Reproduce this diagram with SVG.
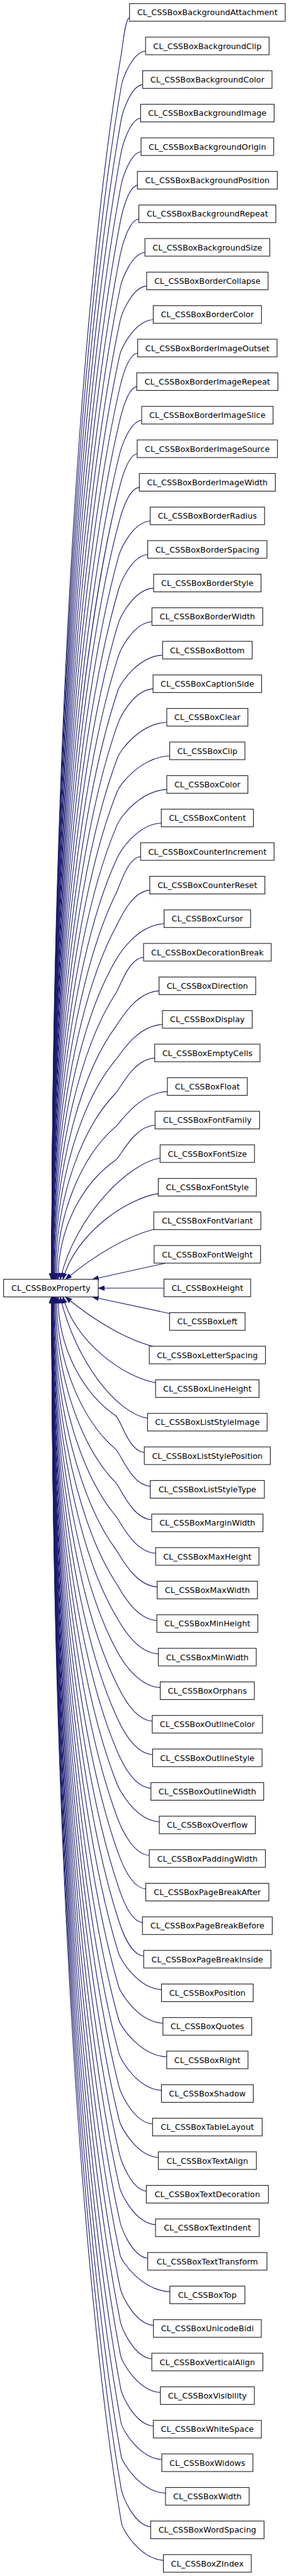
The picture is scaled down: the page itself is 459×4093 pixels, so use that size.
<svg xmlns="http://www.w3.org/2000/svg" width="459" height="4093" viewBox="0 0 459 4093">
<style>
.e{fill:none;stroke:#191970;stroke-width:1.1;marker-end:url(#arr)}
.n rect{fill:#fff;stroke:#1a1a1a;stroke-width:1.1}
.n text{font-family:"DejaVu Sans","Liberation Sans",sans-serif;font-size:12.8px;fill:#000;text-anchor:middle}
</style>
<defs>
<marker id="arr" viewBox="0 0 10 8" refX="10" refY="4" markerWidth="10" markerHeight="8" markerUnits="userSpaceOnUse" orient="auto"><path d="M0,0 L10,4 L0,8 z" fill="#191970" stroke="#191970" stroke-width="0.6"/></marker>
</defs>
<rect width="459" height="4093" fill="#fff"/>
<g id="edges">
<path class="e" d="M205.7,27.7 C198.7,29.7 195,71.9 193,83.7 C133.2,434.5 82.2,1155.7 82.2,2032.7"/>
<path class="e" d="M231.2,81 C210,83 194.8,125.2 192.7,137 C133,478.2 82.2,1179.6 82.2,2032.7"/>
<path class="e" d="M226.6,134.4 C207.8,136.4 194.5,178.6 192.4,190.4 C132.9,522 82.2,1203.7 82.2,2032.7"/>
<path class="e" d="M223.3,187.7 C206.1,189.7 194.3,231.9 192.1,243.7 C132.8,565.7 82.2,1227.7 82.2,2032.7"/>
<path class="e" d="M224,241 C206.3,243 194,285.2 191.8,297 C132.6,609.4 82.2,1251.6 82.2,2032.7"/>
<path class="e" d="M218.2,294.4 C203.5,296.4 193.8,338.6 191.5,350.4 C132.5,653.2 82.2,1275.7 82.2,2032.7"/>
<path class="e" d="M220.5,347.7 C204.4,349.7 193.6,391.9 191.2,403.7 C132.3,696.9 82.2,1299.7 82.2,2032.7"/>
<path class="e" d="M230.2,401 C208.6,403 193.3,445.3 190.9,457 C132.2,740.6 82.2,1323.6 82.2,2032.7"/>
<path class="e" d="M232.9,454.4 C209.6,456.4 193.1,498.7 190.6,510.4 C132.1,784.4 82.2,1347.7 82.2,2032.7"/>
<path class="e" d="M243.4,507.7 C214.2,509.7 192.9,552 190.3,563.7 C131.9,828.1 82.2,1371.7 82.2,2032.7"/>
<path class="e" d="M218.7,561 C202.9,563 192.7,605.3 190,617 C131.8,871.8 82.2,1395.6 82.2,2032.7"/>
<path class="e" d="M217.2,614.4 C202.1,616.4 192.5,658.7 189.7,670.4 C131.6,915.6 82.2,1419.7 82.2,2032.7"/>
<path class="e" d="M225,667.7 C205.4,669.7 192.3,712 189.4,723.7 C131.5,959.3 82.2,1443.7 82.2,2032.7"/>
<path class="e" d="M217.9,721 C202.1,723 192.1,765.4 189.1,777 C131.4,1003 82.2,1467.6 82.2,2032.7"/>
<path class="e" d="M221.3,774.4 C203.4,776.4 191.9,818.8 188.8,830.4 C131.2,1046.8 82.2,1491.7 82.2,2032.7"/>
<path class="e" d="M238.5,827.7 C211,829.7 191.7,872.1 188.5,883.7 C131.1,1090.5 82.2,1515.7 82.2,2032.7"/>
<path class="e" d="M234.6,881 C209.1,883 191.5,925.5 188.2,937 C131,1134.2 82.2,1539.6 82.2,2032.7"/>
<path class="e" d="M244,934.4 C213.1,936.4 191.4,978.9 187.9,990.4 C130.8,1178 82.2,1563.7 82.2,2032.7"/>
<path class="e" d="M241.3,987.7 C211.8,989.7 191.2,1032.3 187.6,1043.7 C130.7,1221.7 82.3,1587.7 82.3,2032.7"/>
<path class="e" d="M258.2,1041 C219.2,1043 191.1,1085.6 187.3,1097 C130.7,1265.4 82.4,1611.6 82.4,2032.7"/>
<path class="e" d="M243.1,1094.4 C212.2,1096.4 191,1139.1 187,1150.4 C130.6,1309.2 82.5,1635.7 82.5,2032.7"/>
<path class="e" d="M264.9,1147.7 C221.9,1149.7 190.9,1192.5 186.7,1203.7 C130.5,1352.9 82.6,1659.7 82.6,2032.7"/>
<path class="e" d="M269.5,1201 C223.8,1203 190.9,1245.9 186.4,1257 C130.4,1396.6 82.7,1683.6 82.7,2032.7"/>
<path class="e" d="M264.9,1254.4 C221.6,1256.4 190.8,1299.4 186.1,1310.4 C130.4,1440.4 82.9,1707.7 82.9,2032.7"/>
<path class="e" d="M256.2,1307.7 C217.5,1309.7 190.8,1352.8 185.8,1363.7 C130.3,1484.1 83.1,1731.7 83.1,2032.7"/>
<path class="e" d="M223.3,1361 C202.5,1363 190.8,1406.2 185.5,1417 C130.4,1527.8 83.4,1755.6 83.4,2032.7"/>
<path class="e" d="M237.9,1414.4 C208.9,1416.4 190.9,1459.9 185.2,1470.4 C130.4,1571.6 83.8,1779.7 83.8,2032.7"/>
<path class="e" d="M260.6,1467.7 C219,1469.7 191,1513.4 184.9,1523.7 C130.5,1615.3 84.2,1803.7 84.2,2032.7"/>
<path class="e" d="M228,1521 C204.1,1523 191.2,1567 184.6,1577 C130.7,1659 84.8,1827.6 84.8,2032.7"/>
<path class="e" d="M252.6,1574.4 C215,1576.4 191.4,1620.8 184.3,1630.4 C130.9,1702.8 85.5,1851.7 85.5,2032.7"/>
<path class="e" d="M258,1627.7 C217.3,1629.7 191.7,1674.5 184,1683.7 C131.3,1746.5 86.5,1875.7 86.5,2032.7"/>
<path class="e" d="M245.7,1681 C211.6,1683 192.1,1728.4 183.7,1737 C132,1790.2 87.9,1899.6 87.9,2032.7"/>
<path class="e" d="M265.8,1734.4 C220.5,1736.4 192.5,1782.6 183.4,1790.4 C132.8,1834 89.7,1923.7 89.7,2032.7"/>
<path class="e" d="M246.3,1787.7 C211.6,1789.7 193,1836.9 183.1,1843.7 C134,1877.7 92.2,1947.7 92.2,2032.7"/>
<path class="e" d="M254.3,1840 C205,1848 120,1930 95.6,2032.7"/>
<path class="e" d="M251.4,1896.4 C200,1905 120,1960 100,2032.7"/>
<path class="e" d="M245,1953 C200,1965 150,1995 104,2032.7"/>
<path class="e" d="M263,2007 L146.7,2032.7"/>
<path class="e" d="M260.4,2046.7 L156,2046.7"/>
<path class="e" d="M269.3,2087 L146.7,2060.7"/>
<path class="e" d="M243.3,2139.3 C200,2128.4 150,2098.4 104,2060.7"/>
<path class="e" d="M247.1,2197 C197,2188.4 120,2133.4 100,2060.7"/>
<path class="e" d="M234.3,2253.4 C185.3,2245.4 120,2163.4 95.6,2060.7"/>
<path class="e" d="M229.2,2308 C203.8,2306 193,2255.8 183.1,2249 C134,2215 92.2,2145 92.2,2060.7"/>
<path class="e" d="M238.6,2361.4 C208.2,2359.4 192.5,2310.2 183.4,2302.4 C132.8,2258.8 89.7,2169.1 89.7,2060.7"/>
<path class="e" d="M240.9,2414.7 C209.4,2412.7 192.1,2364.3 183.7,2355.7 C132,2302.5 87.9,2193.1 87.9,2060.7"/>
<path class="e" d="M247.2,2468 C212.4,2466 191.7,2418.2 184,2409 C131.3,2346.2 86.5,2217 86.5,2060.7"/>
<path class="e" d="M249.6,2521.4 C213.7,2519.4 191.4,2472 184.3,2462.4 C130.9,2390 85.5,2241.1 85.5,2060.7"/>
<path class="e" d="M249.1,2574.7 C213.6,2572.7 191.2,2525.7 184.6,2515.7 C130.7,2433.7 84.8,2265.1 84.8,2060.7"/>
<path class="e" d="M251.5,2628 C214.9,2626 191,2579.3 184.9,2569 C130.5,2477.4 84.2,2289 84.2,2060.7"/>
<path class="e" d="M254.5,2681.4 C216.4,2679.4 190.9,2632.9 185.2,2622.4 C130.4,2521.2 83.8,2313.1 83.8,2060.7"/>
<path class="e" d="M241.8,2734.7 C210.8,2732.7 190.8,2686.5 185.5,2675.7 C130.4,2564.9 83.4,2337.1 83.4,2060.7"/>
<path class="e" d="M242.4,2788 C211.3,2786 190.8,2739.9 185.8,2729 C130.3,2608.6 83.1,2361 83.1,2060.7"/>
<path class="e" d="M239.7,2841.4 C210.2,2839.4 190.8,2793.4 186.1,2782.4 C130.4,2652.4 82.9,2385.1 82.9,2060.7"/>
<path class="e" d="M253,2894.7 C216.4,2892.7 190.9,2846.8 186.4,2835.7 C130.4,2696.1 82.7,2409.1 82.7,2060.7"/>
<path class="e" d="M237.1,2948 C209.4,2946 190.9,2900.2 186.7,2889 C130.5,2739.8 82.6,2433 82.6,2060.7"/>
<path class="e" d="M231.5,3001.4 C207,2999.4 191,2953.7 187,2942.4 C130.6,2783.6 82.5,2457.1 82.5,2060.7"/>
<path class="e" d="M226.2,3054.7 C204.8,3052.7 191.1,3007.1 187.3,2995.7 C130.7,2827.3 82.4,2481.1 82.4,2060.7"/>
<path class="e" d="M228.2,3108 C205.9,3106 191.2,3060.4 187.6,3049 C130.7,2871 82.3,2505 82.3,2060.7"/>
<path class="e" d="M256.5,3161.4 C218.8,3159.4 191.4,3113.9 187.9,3102.4 C130.8,2914.8 82.2,2529.1 82.2,2060.7"/>
<path class="e" d="M258.8,3214.7 C220,3212.7 191.5,3167.2 188.2,3155.7 C131,2958.5 82.2,2553.1 82.2,2060.7"/>
<path class="e" d="M264.8,3268 C222.8,3266 191.7,3220.6 188.5,3209 C131.1,3002.2 82.2,2577 82.2,2060.7"/>
<path class="e" d="M256.4,3321.4 C219.2,3319.4 191.9,3274 188.8,3262.4 C131.2,3046 82.2,2601.1 82.2,2060.7"/>
<path class="e" d="M242.3,3374.7 C213,3372.7 192.1,3327.3 189.1,3315.7 C131.4,3089.7 82.2,2625.1 82.2,2060.7"/>
<path class="e" d="M251.5,3428 C217.3,3426 192.3,3380.7 189.4,3369 C131.5,3133.4 82.2,2649 82.2,2060.7"/>
<path class="e" d="M232.4,3481.4 C208.9,3479.4 192.5,3434.1 189.7,3422.4 C131.6,3177.2 82.2,2673.1 82.2,2060.7"/>
<path class="e" d="M247,3534.7 C215.6,3532.7 192.7,3487.4 190,3475.7 C131.8,3220.9 82.2,2697.1 82.2,2060.7"/>
<path class="e" d="M234.6,3588 C210.2,3586 192.9,3540.7 190.3,3529 C131.9,3264.6 82.2,2721 82.2,2060.7"/>
<path class="e" d="M269.8,3641.4 C226.2,3639.4 193.1,3594.1 190.6,3582.4 C132.1,3308.4 82.2,2745.1 82.2,2060.7"/>
<path class="e" d="M243.7,3694.7 C214.7,3692.7 193.3,3647.4 190.9,3635.7 C132.2,3352.1 82.2,2769.1 82.2,2060.7"/>
<path class="e" d="M241.1,3748 C213.7,3746 193.6,3700.8 191.2,3689 C132.3,3395.8 82.2,2793 82.2,2060.7"/>
<path class="e" d="M254.7,3801.4 C219.9,3799.4 193.8,3754.2 191.5,3742.4 C132.5,3439.6 82.2,2817.1 82.2,2060.7"/>
<path class="e" d="M243.5,3854.7 C215.1,3852.7 194,3807.5 191.8,3795.7 C132.6,3483.3 82.2,2841.1 82.2,2060.7"/>
<path class="e" d="M257,3908 C221.3,3906 194.3,3860.8 192.1,3849 C132.8,3527 82.2,2865 82.2,2060.7"/>
<path class="e" d="M262.9,3961.4 C224.1,3959.4 194.5,3914.2 192.4,3902.4 C132.9,3570.8 82.2,2889.1 82.2,2060.7"/>
<path class="e" d="M239.3,4014.7 C213.7,4012.7 194.8,3967.5 192.7,3955.7 C133,3614.5 82.2,2913.1 82.2,2060.7"/>
<path class="e" d="M259.5,4068 C222.9,4066 195,4020.8 193,4009 C133.2,3658.2 82.2,2937 82.2,2060.7"/>
</g>
<g id="CL_CSSBoxProperty" class="n"><rect x="5.7" y="2032.7" width="150.3" height="28"/><text x="80.9" y="2051.2">CL_CSSBoxProperty</text></g>
<g id="CL_CSSBoxBackgroundAttachment" class="n"><rect x="205.7" y="5.7" width="247.3" height="28"/><text x="329.3" y="24.2">CL_CSSBoxBackgroundAttachment</text></g>
<g id="CL_CSSBoxBackgroundClip" class="n"><rect x="231.2" y="59" width="196.2" height="28"/><text x="329.3" y="77.5">CL_CSSBoxBackgroundClip</text></g>
<g id="CL_CSSBoxBackgroundColor" class="n"><rect x="226.6" y="112.4" width="205.4" height="28"/><text x="329.3" y="130.9">CL_CSSBoxBackgroundColor</text></g>
<g id="CL_CSSBoxBackgroundImage" class="n"><rect x="223.3" y="165.7" width="212.1" height="28"/><text x="329.3" y="184.2">CL_CSSBoxBackgroundImage</text></g>
<g id="CL_CSSBoxBackgroundOrigin" class="n"><rect x="224" y="219" width="210.7" height="28"/><text x="329.3" y="237.5">CL_CSSBoxBackgroundOrigin</text></g>
<g id="CL_CSSBoxBackgroundPosition" class="n"><rect x="218.2" y="272.4" width="222.3" height="28"/><text x="329.3" y="290.9">CL_CSSBoxBackgroundPosition</text></g>
<g id="CL_CSSBoxBackgroundRepeat" class="n"><rect x="220.5" y="325.7" width="217.6" height="28"/><text x="329.3" y="344.2">CL_CSSBoxBackgroundRepeat</text></g>
<g id="CL_CSSBoxBackgroundSize" class="n"><rect x="230.2" y="379" width="198.3" height="28"/><text x="329.3" y="397.5">CL_CSSBoxBackgroundSize</text></g>
<g id="CL_CSSBoxBorderCollapse" class="n"><rect x="232.9" y="432.4" width="192.9" height="28"/><text x="329.3" y="450.9">CL_CSSBoxBorderCollapse</text></g>
<g id="CL_CSSBoxBorderColor" class="n"><rect x="243.4" y="485.7" width="171.9" height="28"/><text x="329.3" y="504.2">CL_CSSBoxBorderColor</text></g>
<g id="CL_CSSBoxBorderImageOutset" class="n"><rect x="218.7" y="539" width="221.3" height="28"/><text x="329.3" y="557.5">CL_CSSBoxBorderImageOutset</text></g>
<g id="CL_CSSBoxBorderImageRepeat" class="n"><rect x="217.2" y="592.4" width="224.2" height="28"/><text x="329.3" y="610.9">CL_CSSBoxBorderImageRepeat</text></g>
<g id="CL_CSSBoxBorderImageSlice" class="n"><rect x="225" y="645.7" width="208.7" height="28"/><text x="329.3" y="664.2">CL_CSSBoxBorderImageSlice</text></g>
<g id="CL_CSSBoxBorderImageSource" class="n"><rect x="217.9" y="699" width="222.8" height="28"/><text x="329.3" y="717.5">CL_CSSBoxBorderImageSource</text></g>
<g id="CL_CSSBoxBorderImageWidth" class="n"><rect x="221.3" y="752.4" width="216" height="28"/><text x="329.3" y="770.9">CL_CSSBoxBorderImageWidth</text></g>
<g id="CL_CSSBoxBorderRadius" class="n"><rect x="238.5" y="805.7" width="181.7" height="28"/><text x="329.3" y="824.2">CL_CSSBoxBorderRadius</text></g>
<g id="CL_CSSBoxBorderSpacing" class="n"><rect x="234.6" y="859" width="189.4" height="28"/><text x="329.3" y="877.5">CL_CSSBoxBorderSpacing</text></g>
<g id="CL_CSSBoxBorderStyle" class="n"><rect x="244" y="912.4" width="170.6" height="28"/><text x="329.3" y="930.9">CL_CSSBoxBorderStyle</text></g>
<g id="CL_CSSBoxBorderWidth" class="n"><rect x="241.3" y="965.7" width="176" height="28"/><text x="329.3" y="984.2">CL_CSSBoxBorderWidth</text></g>
<g id="CL_CSSBoxBottom" class="n"><rect x="258.2" y="1019" width="142.3" height="28"/><text x="329.3" y="1037.5">CL_CSSBoxBottom</text></g>
<g id="CL_CSSBoxCaptionSide" class="n"><rect x="243.1" y="1072.4" width="172.4" height="28"/><text x="329.3" y="1090.9">CL_CSSBoxCaptionSide</text></g>
<g id="CL_CSSBoxClear" class="n"><rect x="264.9" y="1125.7" width="128.8" height="28"/><text x="329.3" y="1144.2">CL_CSSBoxClear</text></g>
<g id="CL_CSSBoxClip" class="n"><rect x="269.5" y="1179" width="119.5" height="28"/><text x="329.3" y="1197.5">CL_CSSBoxClip</text></g>
<g id="CL_CSSBoxColor" class="n"><rect x="264.9" y="1232.4" width="128.8" height="28"/><text x="329.3" y="1250.9">CL_CSSBoxColor</text></g>
<g id="CL_CSSBoxContent" class="n"><rect x="256.2" y="1285.7" width="146.3" height="28"/><text x="329.3" y="1304.2">CL_CSSBoxContent</text></g>
<g id="CL_CSSBoxCounterIncrement" class="n"><rect x="223.3" y="1339" width="212" height="28"/><text x="329.3" y="1357.5">CL_CSSBoxCounterIncrement</text></g>
<g id="CL_CSSBoxCounterReset" class="n"><rect x="237.9" y="1392.4" width="182.8" height="28"/><text x="329.3" y="1410.9">CL_CSSBoxCounterReset</text></g>
<g id="CL_CSSBoxCursor" class="n"><rect x="260.6" y="1445.7" width="137.4" height="28"/><text x="329.3" y="1464.2">CL_CSSBoxCursor</text></g>
<g id="CL_CSSBoxDecorationBreak" class="n"><rect x="228" y="1499" width="202.7" height="28"/><text x="329.3" y="1517.5">CL_CSSBoxDecorationBreak</text></g>
<g id="CL_CSSBoxDirection" class="n"><rect x="252.6" y="1552.4" width="153.5" height="28"/><text x="329.3" y="1570.9">CL_CSSBoxDirection</text></g>
<g id="CL_CSSBoxDisplay" class="n"><rect x="258" y="1605.7" width="142.5" height="28"/><text x="329.3" y="1624.2">CL_CSSBoxDisplay</text></g>
<g id="CL_CSSBoxEmptyCells" class="n"><rect x="245.7" y="1659" width="167.2" height="28"/><text x="329.3" y="1677.5">CL_CSSBoxEmptyCells</text></g>
<g id="CL_CSSBoxFloat" class="n"><rect x="265.8" y="1712.4" width="127" height="28"/><text x="329.3" y="1730.9">CL_CSSBoxFloat</text></g>
<g id="CL_CSSBoxFontFamily" class="n"><rect x="246.3" y="1765.7" width="166" height="28"/><text x="329.3" y="1784.2">CL_CSSBoxFontFamily</text></g>
<g id="CL_CSSBoxFontSize" class="n"><rect x="254.3" y="1819" width="149.9" height="28"/><text x="329.3" y="1837.5">CL_CSSBoxFontSize</text></g>
<g id="CL_CSSBoxFontStyle" class="n"><rect x="251.4" y="1872.4" width="155.8" height="28"/><text x="329.3" y="1890.9">CL_CSSBoxFontStyle</text></g>
<g id="CL_CSSBoxFontVariant" class="n"><rect x="244.2" y="1925.7" width="170.1" height="28"/><text x="329.3" y="1944.2">CL_CSSBoxFontVariant</text></g>
<g id="CL_CSSBoxFontWeight" class="n"><rect x="244.8" y="1979" width="169" height="28"/><text x="329.3" y="1997.5">CL_CSSBoxFontWeight</text></g>
<g id="CL_CSSBoxHeight" class="n"><rect x="260.4" y="2032.4" width="137.7" height="28"/><text x="329.3" y="2050.9">CL_CSSBoxHeight</text></g>
<g id="CL_CSSBoxLeft" class="n"><rect x="269.3" y="2085.7" width="119.9" height="28"/><text x="329.3" y="2104.2">CL_CSSBoxLeft</text></g>
<g id="CL_CSSBoxLetterSpacing" class="n"><rect x="237.1" y="2139" width="184.5" height="28"/><text x="329.3" y="2157.5">CL_CSSBoxLetterSpacing</text></g>
<g id="CL_CSSBoxLineHeight" class="n"><rect x="247.1" y="2192.4" width="164.3" height="28"/><text x="329.3" y="2210.9">CL_CSSBoxLineHeight</text></g>
<g id="CL_CSSBoxListStyleImage" class="n"><rect x="234.3" y="2245.7" width="190" height="28"/><text x="329.3" y="2264.2">CL_CSSBoxListStyleImage</text></g>
<g id="CL_CSSBoxListStylePosition" class="n"><rect x="229.2" y="2299" width="200.2" height="28"/><text x="329.3" y="2317.5">CL_CSSBoxListStylePosition</text></g>
<g id="CL_CSSBoxListStyleType" class="n"><rect x="238.6" y="2352.4" width="181.3" height="28"/><text x="329.3" y="2370.9">CL_CSSBoxListStyleType</text></g>
<g id="CL_CSSBoxMarginWidth" class="n"><rect x="240.9" y="2405.7" width="176.8" height="28"/><text x="329.3" y="2424.2">CL_CSSBoxMarginWidth</text></g>
<g id="CL_CSSBoxMaxHeight" class="n"><rect x="247.2" y="2459" width="164.1" height="28"/><text x="329.3" y="2477.5">CL_CSSBoxMaxHeight</text></g>
<g id="CL_CSSBoxMaxWidth" class="n"><rect x="249.6" y="2512.4" width="159.3" height="28"/><text x="329.3" y="2530.9">CL_CSSBoxMaxWidth</text></g>
<g id="CL_CSSBoxMinHeight" class="n"><rect x="249.1" y="2565.7" width="160.4" height="28"/><text x="329.3" y="2584.2">CL_CSSBoxMinHeight</text></g>
<g id="CL_CSSBoxMinWidth" class="n"><rect x="251.5" y="2619" width="155.5" height="28"/><text x="329.3" y="2637.5">CL_CSSBoxMinWidth</text></g>
<g id="CL_CSSBoxOrphans" class="n"><rect x="254.5" y="2672.4" width="149.5" height="28"/><text x="329.3" y="2690.9">CL_CSSBoxOrphans</text></g>
<g id="CL_CSSBoxOutlineColor" class="n"><rect x="241.8" y="2725.7" width="175.1" height="28"/><text x="329.3" y="2744.2">CL_CSSBoxOutlineColor</text></g>
<g id="CL_CSSBoxOutlineStyle" class="n"><rect x="242.4" y="2779" width="173.8" height="28"/><text x="329.3" y="2797.5">CL_CSSBoxOutlineStyle</text></g>
<g id="CL_CSSBoxOutlineWidth" class="n"><rect x="239.7" y="2832.4" width="179.1" height="28"/><text x="329.3" y="2850.9">CL_CSSBoxOutlineWidth</text></g>
<g id="CL_CSSBoxOverflow" class="n"><rect x="253" y="2885.7" width="152.5" height="28"/><text x="329.3" y="2904.2">CL_CSSBoxOverflow</text></g>
<g id="CL_CSSBoxPaddingWidth" class="n"><rect x="237.1" y="2939" width="184.4" height="28"/><text x="329.3" y="2957.5">CL_CSSBoxPaddingWidth</text></g>
<g id="CL_CSSBoxPageBreakAfter" class="n"><rect x="231.5" y="2992.4" width="195.5" height="28"/><text x="329.3" y="3010.9">CL_CSSBoxPageBreakAfter</text></g>
<g id="CL_CSSBoxPageBreakBefore" class="n"><rect x="226.2" y="3045.7" width="206.2" height="28"/><text x="329.3" y="3064.2">CL_CSSBoxPageBreakBefore</text></g>
<g id="CL_CSSBoxPageBreakInside" class="n"><rect x="228.2" y="3099" width="202.2" height="28"/><text x="329.3" y="3117.5">CL_CSSBoxPageBreakInside</text></g>
<g id="CL_CSSBoxPosition" class="n"><rect x="256.5" y="3152.4" width="145.6" height="28"/><text x="329.3" y="3170.9">CL_CSSBoxPosition</text></g>
<g id="CL_CSSBoxQuotes" class="n"><rect x="258.8" y="3205.7" width="140.9" height="28"/><text x="329.3" y="3224.2">CL_CSSBoxQuotes</text></g>
<g id="CL_CSSBoxRight" class="n"><rect x="264.8" y="3259" width="129.1" height="28"/><text x="329.3" y="3277.5">CL_CSSBoxRight</text></g>
<g id="CL_CSSBoxShadow" class="n"><rect x="256.4" y="3312.4" width="145.9" height="28"/><text x="329.3" y="3330.9">CL_CSSBoxShadow</text></g>
<g id="CL_CSSBoxTableLayout" class="n"><rect x="242.3" y="3365.7" width="174.1" height="28"/><text x="329.3" y="3384.2">CL_CSSBoxTableLayout</text></g>
<g id="CL_CSSBoxTextAlign" class="n"><rect x="251.5" y="3419" width="155.7" height="28"/><text x="329.3" y="3437.5">CL_CSSBoxTextAlign</text></g>
<g id="CL_CSSBoxTextDecoration" class="n"><rect x="232.4" y="3472.4" width="193.9" height="28"/><text x="329.3" y="3490.9">CL_CSSBoxTextDecoration</text></g>
<g id="CL_CSSBoxTextIndent" class="n"><rect x="247" y="3525.7" width="164.7" height="28"/><text x="329.3" y="3544.2">CL_CSSBoxTextIndent</text></g>
<g id="CL_CSSBoxTextTransform" class="n"><rect x="234.6" y="3579" width="189.4" height="28"/><text x="329.3" y="3597.5">CL_CSSBoxTextTransform</text></g>
<g id="CL_CSSBoxTop" class="n"><rect x="269.8" y="3632.4" width="119.1" height="28"/><text x="329.3" y="3650.9">CL_CSSBoxTop</text></g>
<g id="CL_CSSBoxUnicodeBidi" class="n"><rect x="243.7" y="3685.7" width="171.3" height="28"/><text x="329.3" y="3704.2">CL_CSSBoxUnicodeBidi</text></g>
<g id="CL_CSSBoxVerticalAlign" class="n"><rect x="241.1" y="3739" width="176.4" height="28"/><text x="329.3" y="3757.5">CL_CSSBoxVerticalAlign</text></g>
<g id="CL_CSSBoxVisibility" class="n"><rect x="254.7" y="3792.4" width="149.3" height="28"/><text x="329.3" y="3810.9">CL_CSSBoxVisibility</text></g>
<g id="CL_CSSBoxWhiteSpace" class="n"><rect x="243.5" y="3845.7" width="171.6" height="28"/><text x="329.3" y="3864.2">CL_CSSBoxWhiteSpace</text></g>
<g id="CL_CSSBoxWidows" class="n"><rect x="257" y="3899" width="144.7" height="28"/><text x="329.3" y="3917.5">CL_CSSBoxWidows</text></g>
<g id="CL_CSSBoxWidth" class="n"><rect x="262.9" y="3952.4" width="132.8" height="28"/><text x="329.3" y="3970.9">CL_CSSBoxWidth</text></g>
<g id="CL_CSSBoxWordSpacing" class="n"><rect x="239.3" y="4005.7" width="180.1" height="28"/><text x="329.3" y="4024.2">CL_CSSBoxWordSpacing</text></g>
<g id="CL_CSSBoxZIndex" class="n"><rect x="259.5" y="4059" width="139.6" height="28"/><text x="329.3" y="4077.5">CL_CSSBoxZIndex</text></g>
</svg>
